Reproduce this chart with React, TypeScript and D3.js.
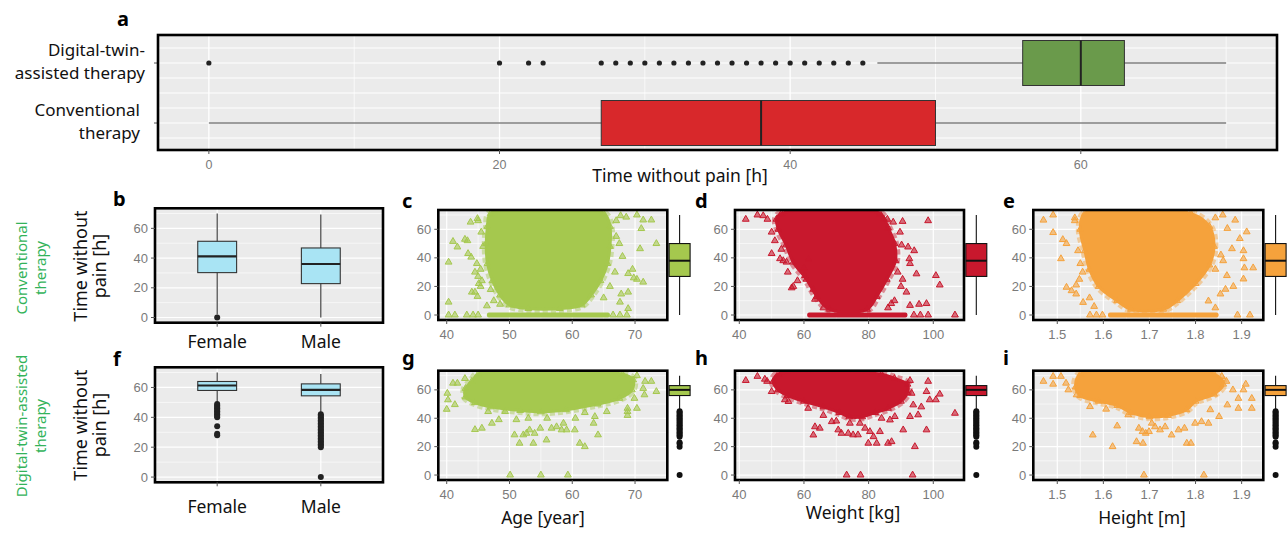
import React from 'react';
import * as d3 from 'd3';

const W = 1287;
const H = 533;
const TEXT_FONT = '"Noto Sans", "Open Sans", sans-serif';
const TICK_FONT = '"Liberation Sans", Arial, sans-serif';
const PANEL_BG = '#ebebeb';
const TICK_GREY = '#7a7a7a';
const LABEL_GREEN = '#33b35a';
const TIME_DOMAIN = [-3.5, 73.5];

// ---------- panel a: time without pain per therapy ----------
const therapyGroups = ['Digital-twin-assisted therapy', 'Conventional therapy'];
const therapyLabelLines = [['Digital-twin-', 'assisted therapy'], ['Conventional', 'therapy']];
const therapyFills = ['#6a9a4b', '#d8282b'];
// [lower whisker, Q1, median, Q3, upper whisker]
const digitalStats = [46, 56, 60, 63, 70];
const conventionalStats = [0, 27, 38, 50, 70];
const digitalOutliers = [0, 20, 22, 23, 27, 28, 29, 30, 31, 32, 33, 34, 35, 36, 37, 38, 39, 40, 41, 42, 43, 44, 45];
const conventionalOutliers: number[] = [];
const timeTicks = [0, 20, 40, 60];
const timeMinorTicks = [10, 30, 50, 70];

// ---------- panels b, f: by sex ----------
const sexes = ['Female', 'Male'];
const sexFill = '#a9e4f4';
const convSexStats = [[2, 30.2, 41.2, 51.3, 70], [0, 22.8, 36, 46.8, 69.4]];
const convSexOutliers = [[0], []];
const dtSexStats = [[49.5, 58, 61.3, 64, 70], [42.8, 54.4, 58.4, 62.4, 69]];
const dtSexOutliers = [
  [49, 48, 47, 46, 45, 44, 43, 42, 41, 40, 34, 29, 28],
  [42, 41, 40, 39, 38, 37, 36, 35, 34, 33, 32, 31, 30, 29, 28, 27, 26, 25, 24, 23, 22, 21, 20, 0],
];

// ---------- scatter panels ----------
const ageColor = '#a5c84e';
const weightColor = '#c8182d';
const heightColor = '#f5a23c';
const ageTicks = [40, 50, 60, 70];
const ageMinor = [45, 55, 65, 75];
const weightTicks = [40, 60, 80, 100];
const weightMinor = [50, 70, 90];
const heightTicks = [1.5, 1.6, 1.7, 1.8, 1.9];
const heightMinor = [1.45, 1.55, 1.65, 1.75, 1.85];

// conventional therapy: dense cloud outline, row of zeros, scattered points
const ageConvCore = [[47, 71], [65, 71], [66, 62], [66, 48], [65.6, 36], [64.5, 24], [63, 14], [61.5, 7], [58, 4.5], [53, 4.5], [50, 7], [48.5, 14], [47.3, 24], [46.5, 36], [46.3, 50], [46.5, 62]];
const ageConvZeros = [46.4, 66];
const ageConvPoints = [[40.3, 37], [41, 51.5], [41.7, 47.6], [42.9, 53], [43.3, 52], [43.8, 65], [45, 66], [44.9, 67.5], [43.4, 43], [43.9, 40.5], [44, 16], [44.5, 16], [40.3, 9], [40.3, 0], [41.3, 0], [43.2, 0], [44.2, 0], [45, 0], [45.4, 20], [44.9, 13], [46.4, 6.4], [48.5, 7.5], [47, 17.8], [47.5, 10], [66.5, 0], [67.6, 0], [68.7, 0], [70.3, 70], [71.3, 66.5], [72.6, 66.5], [73.4, 50], [70.8, 46.4], [71, 60.5], [70.3, 25], [71.3, 23], [69.8, 26], [68.9, 16], [67.8, 14.7], [67.6, 9], [68.9, 4.5], [68, 41], [68.9, 29], [69.6, 32], [67, 66], [68.6, 68.5], [67.7, 69.5], [45.5, 58], [45.8, 48], [44.5, 30], [45, 27], [67, 55], [67.5, 50], [66.8, 30], [66, 20], [65, 12], [44.8, 36], [45.4, 32], [45.6, 24], [45.1, 22]];

const weightConvCore = [[53, 71], [83.5, 71], [86, 61], [88, 50], [88.3, 38], [85.6, 25], [82.5, 13], [79.5, 4], [68, 4], [64, 13], [60.8, 25], [56.7, 37], [54.5, 49], [52.1, 60], [51.5, 67]];
const weightConvZeros = [61, 92];
const weightConvPoints = [[42, 67], [45.6, 70], [47.4, 69.5], [48.7, 67], [50, 58], [50, 43], [52.6, 39.4], [53.6, 38], [54.6, 37], [56.2, 19], [56.7, 20], [60.3, 27.6], [60, 33], [61.4, 39], [62.9, 18], [63.4, 11], [66, 5], [84.7, 67], [85.8, 67], [87.6, 65], [90.5, 65.5], [89.7, 58], [90.2, 49], [92.2, 47.6], [94.1, 45], [92.6, 39.4], [92.8, 36], [94.8, 28.8], [90.5, 25], [91.7, 16], [92.8, 6.7], [95.6, 7.5], [97.9, 8], [100.8, 27.6], [102, 21], [98.4, 66], [94, 0], [96, 0], [98.4, 0], [106.7, 0], [51, 52], [53, 46], [55, 30], [58, 24], [89, 30], [90, 20], [88, 10], [86, 5], [87, 8]];

const heightConvCore = [[1.56, 71], [1.79, 71], [1.83, 62], [1.84, 48], [1.83, 35], [1.8, 22], [1.76, 10], [1.73, 4], [1.66, 4], [1.63, 10], [1.59, 20], [1.57, 32], [1.56, 45], [1.55, 60]];
const heightConvZeros = [1.61, 1.85];
const heightConvPoints = [[1.47, 66.4], [1.491, 70], [1.491, 57.7], [1.512, 52.8], [1.52, 50], [1.508, 39.4], [1.52, 19.4], [1.531, 17], [1.541, 14.7], [1.538, 66], [1.538, 68], [1.541, 21], [1.548, 25], [1.555, 30], [1.556, 8.8], [1.571, 0], [1.585, 0], [1.598, 0], [1.891, 0], [1.918, 0], [1.859, 70], [1.843, 68], [1.869, 60.6], [1.886, 66.4], [1.896, 53.5], [1.911, 58.2], [1.904, 45], [1.879, 46.4], [1.904, 39.4], [1.906, 33], [1.925, 33], [1.904, 25.2], [1.882, 20], [1.868, 27.6], [1.865, 18], [1.854, 14.7], [1.843, 5], [1.828, 9.8], [1.843, 32], [1.86, 38], [1.855, 42], [1.57, 12], [1.58, 6], [1.545, 45], [1.55, 36]];

// digital-twin-assisted therapy
const ageDtCore = [[45, 71], [68, 71], [69.7, 67], [69.5, 60], [67.5, 54], [64, 50], [59, 46], [55, 44.5], [51.7, 45.5], [47, 48], [44.5, 51], [43, 55], [43, 61], [44, 66]];
const ageDtPoints = [[40.1, 57.6], [40.2, 53], [40, 46.3], [41.3, 49.6], [41, 64.7], [41.7, 64.7], [42.9, 68], [44.5, 32], [45.6, 33], [47.2, 36.5], [48.3, 39], [46.6, 44.7], [49.3, 44.7], [51.1, 39], [50.8, 28.3], [52.2, 28.3], [52.7, 29.4], [53.2, 31.8], [54, 29.4], [51.6, 22.4], [53.8, 22.4], [54.9, 33], [55.9, 24.7], [56.7, 33], [57.5, 34], [58.3, 31.8], [59.1, 31.8], [58.6, 36.5], [60.4, 31.8], [61.2, 22.4], [62, 20], [64.1, 28.3], [63.4, 36.5], [63.6, 41.2], [65.5, 44.7], [68.8, 44.7], [68.8, 42], [68.8, 47], [70.3, 47], [70.3, 70], [71.6, 66], [72.6, 66], [73.4, 58.8], [71.3, 61], [71.5, 56.5], [69.9, 54], [50.1, 0], [55, 0], [59.3, 0], [60.5, 40], [62, 44], [56, 40], [53, 40]];

const weightDtCore = [[52, 71], [84, 71], [88, 68], [92, 64], [92, 58], [90, 52], [86, 47], [82, 44], [78, 41], [74, 41], [71, 44], [66, 48], [60, 52], [55, 56], [52, 60], [50.5, 66]];
const weightDtPoints = [[42, 66.6], [45.6, 69.5], [47.9, 67.5], [48.6, 66], [50, 58.8], [54.1, 53], [55.2, 51.8], [61.3, 47], [62.9, 28.2], [63.4, 34], [64.9, 33], [68.6, 37.6], [70.6, 31.8], [71.6, 29.4], [73.7, 29.4], [75.2, 28.3], [76.7, 28.3], [74.2, 36.5], [77.3, 36.5], [78.9, 33], [80.4, 30.6], [81.5, 27], [83.5, 30.6], [79.9, 22.4], [82.5, 22.4], [86, 22.4], [87.1, 23.5], [86.6, 38.8], [88.1, 41.2], [90.7, 31.8], [92.8, 41.2], [95.3, 42.4], [94.3, 20], [97.9, 31.8], [96.3, 48], [97.9, 58.8], [98.4, 66], [98.9, 53], [100.8, 53], [102, 57], [106.7, 43.5], [93.3, 57.6], [93.8, 49.4], [92.8, 66.6], [73.2, 0], [77.5, 0], [93.6, 0], [66, 42], [70, 38], [84, 40]];

const heightDtCore = [[1.55, 71], [1.84, 71], [1.86, 64], [1.84, 57], [1.8, 52], [1.78, 46], [1.74, 42], [1.7, 41], [1.66, 44], [1.63, 49], [1.59, 52], [1.55, 56], [1.54, 62]];
const heightDtPoints = [[1.47, 66], [1.491, 69.5], [1.508, 69.5], [1.491, 64], [1.519, 64.7], [1.524, 60], [1.542, 56.5], [1.571, 48.2], [1.577, 28.2], [1.606, 46.4], [1.62, 20], [1.63, 34.6], [1.654, 42.4], [1.672, 23.5], [1.685, 30.6], [1.692, 29.4], [1.699, 30.6], [1.686, 22.4], [1.677, 33], [1.705, 36.5], [1.712, 34], [1.723, 31.8], [1.734, 34], [1.748, 28.2], [1.763, 31.8], [1.781, 22.4], [1.79, 22.4], [1.776, 33], [1.799, 36.5], [1.813, 37.6], [1.828, 36.5], [1.832, 46], [1.851, 41.2], [1.869, 49.4], [1.893, 54], [1.893, 47], [1.904, 60], [1.909, 64], [1.922, 54], [1.922, 47], [1.881, 60], [1.867, 66], [1.857, 69.5], [1.688, 0], [1.818, 0]];

// ---------- shared pieces ----------
function VBox({ cx, w, y, s, fill, outliers, r }: any) {
  return (
    <g>
      <line x1={cx} x2={cx} y1={y(s[4])} y2={y(s[0])} stroke="#333" strokeWidth={1.1} />
      <rect x={cx - w / 2} y={y(s[3])} width={w} height={y(s[1]) - y(s[3])} fill={fill} stroke="#333" strokeWidth={1.1} />
      <line x1={cx - w / 2} x2={cx + w / 2} y1={y(s[2])} y2={y(s[2])} stroke="#222" strokeWidth={2.2} />
      {outliers.map((o: number, i: number) => (
        <circle key={i} cx={cx} cy={y(o)} r={r} fill="#222" />
      ))}
    </g>
  );
}

function GridY({ x0, x1, y, major, minor }: any) {
  return (
    <g>
      {minor.map((t: number) => <line key={'n' + t} x1={x0} x2={x1} y1={y(t)} y2={y(t)} stroke="#fff" strokeWidth={0.6} />)}
      {major.map((t: number) => <line key={'j' + t} x1={x0} x2={x1} y1={y(t)} y2={y(t)} stroke="#fff" strokeWidth={1.2} />)}
    </g>
  );
}

function YAxis({ x0, y, ticks }: any) {
  return (
    <g>
      {ticks.map((t: number) => (
        <g key={t}>
          <line x1={x0 - 4} x2={x0} y1={y(t)} y2={y(t)} stroke="#555" strokeWidth={1} />
          <text x={x0 - 7} y={y(t) + 4.5} textAnchor="end" fontFamily={TICK_FONT} fontSize={13} fill={TICK_GREY}>{t}</text>
        </g>
      ))}
    </g>
  );
}

function Letter({ x, y, t }: any) {
  return <text x={x} y={y} fontFamily={TEXT_FONT} fontWeight="bold" fontSize={20} fill="#000">{t}</text>;
}

function PanelA() {
  const x0 = 158, x1 = 1277, y0 = 35, y1 = 150;
  const x = d3.scaleLinear().domain(TIME_DOMAIN).range([x0, x1]);
  const y = d3.scaleLinear().domain([1, 2]).range([123, 63]);
  const rows = [
    { pos: 2, stats: digitalStats, out: digitalOutliers, fill: therapyFills[0], lines: therapyLabelLines[0], lx: 145 },
    { pos: 1, stats: conventionalStats, out: conventionalOutliers, fill: therapyFills[1], lines: therapyLabelLines[1], lx: 140 },
  ];
  const hLines = [0.75, 1, 1.25, 1.5, 1.75, 2, 2.25];
  const half = 0.375;
  return (
    <g>
      <rect x={x0} y={y0} width={x1 - x0} height={y1 - y0} fill={PANEL_BG} />
      {hLines.map((p) => <line key={p} x1={x0} x2={x1} y1={y(p)} y2={y(p)} stroke="#fff" strokeWidth={1} />)}
      {timeMinorTicks.map((t) => <line key={'n' + t} x1={x(t)} x2={x(t)} y1={y0} y2={y1} stroke="#fff" strokeWidth={0.7} />)}
      {timeTicks.map((t) => <line key={'j' + t} x1={x(t)} x2={x(t)} y1={y0} y2={y1} stroke="#fff" strokeWidth={1.3} />)}
      {rows.map((r) => (
        <g key={r.pos}>
          <line x1={x(r.stats[0])} x2={x(r.stats[4])} y1={y(r.pos)} y2={y(r.pos)} stroke="#444" strokeWidth={1.2} />
          <rect x={x(r.stats[1])} y={y(r.pos + half)} width={x(r.stats[3]) - x(r.stats[1])} height={y(r.pos - half) - y(r.pos + half)} fill={r.fill} stroke="#333" strokeWidth={1} />
          <line x1={x(r.stats[2])} x2={x(r.stats[2])} y1={y(r.pos + half)} y2={y(r.pos - half)} stroke="#222" strokeWidth={2} />
          {r.out.map((o: number, i: number) => <circle key={i} cx={x(o)} cy={y(r.pos)} r={2.6} fill="#222" />)}
          <line x1={x0 - 4} x2={x0} y1={y(r.pos)} y2={y(r.pos)} stroke="#555" />
          {r.lines.map((l: string, i: number) => (
            <text key={i} x={r.lx} y={y(r.pos) - 7 + i * 23} textAnchor="end" fontFamily={TEXT_FONT} fontSize={17} fill="#111">{l}</text>
          ))}
        </g>
      ))}
      <rect x={x0} y={y0} width={x1 - x0} height={y1 - y0} fill="none" stroke="#000" strokeWidth={2.6} />
      {timeTicks.map((t) => (
        <g key={t}>
          <line x1={x(t)} x2={x(t)} y1={y1} y2={y1 + 4} stroke="#555" />
          <text x={x(t)} y={169} textAnchor="middle" fontFamily={TICK_FONT} fontSize={12.5} fill={TICK_GREY}>{t}</text>
        </g>
      ))}
      <text x={680} y={182} textAnchor="middle" fontFamily={TEXT_FONT} fontSize={17.5} fill="#111">Time without pain [h]</text>
      <Letter x={117} y={26} t="a" />
    </g>
  );
}

function SexPanel({ y0, y1, stats, outliers, letter, letterY, catY }: any) {
  const x0 = 155, x1 = 383;
  const x = d3.scaleLinear().domain([0.4, 2.6]).range([x0, x1]);
  const y = d3.scaleLinear().domain(TIME_DOMAIN).range([y1, y0]);
  const bw = x(1.375) - x(1);
  return (
    <g>
      <rect x={x0} y={y0} width={x1 - x0} height={y1 - y0} fill={PANEL_BG} />
      <GridY x0={x0} x1={x1} y={y} major={timeTicks} minor={timeMinorTicks} />
      {sexes.map((s, i) => <line key={s} x1={x(i + 1)} x2={x(i + 1)} y1={y0} y2={y1} stroke="#fff" strokeWidth={1.2} />)}
      {sexes.map((s, i) => (
        <VBox key={s} cx={x(i + 1)} w={bw} y={y} s={stats[i]} fill={sexFill} outliers={outliers[i]} r={3} />
      ))}
      <rect x={x0} y={y0} width={x1 - x0} height={y1 - y0} fill="none" stroke="#000" strokeWidth={2.6} />
      <YAxis x0={x0} y={y} ticks={timeTicks} />
      {sexes.map((s, i) => (
        <g key={s}>
          <line x1={x(i + 1)} x2={x(i + 1)} y1={y1} y2={y1 + 4} stroke="#555" />
          <text x={x(i + 1)} y={catY} textAnchor="middle" fontFamily={TEXT_FONT} fontSize={17.5} fill="#111">{s}</text>
        </g>
      ))}
      <Letter x={113} y={letterY} t={letter} />
    </g>
  );
}

const tri = d3.symbol().type(d3.symbolTriangle).size(20)();

function Scatter({ x0, x1, y0, y1, xDomain, xTicks, xMinor, core, zeros, points, color, margStats, margOutliers, tickY, letter, letterX, letterY }: any) {
  const x = d3.scaleLinear().domain(xDomain).range([x0, x1]);
  const y = d3.scaleLinear().domain(TIME_DOMAIN).range([y1, y0]);
  const blob = d3.line<number[]>().x((d) => x(d[0])).y((d) => y(d[1])).curve(d3.curveCatmullRomClosed.alpha(0.5))(core);
  const clipId = 'clip-' + letter;
  const mcx = x1 + 12.3;
  const mw = 21;
  const marks = points.concat(core);
  return (
    <g>
      <defs>
        <clipPath id={clipId}><rect x={x0} y={y0} width={x1 - x0} height={y1 - y0} /></clipPath>
      </defs>
      <rect x={x0} y={y0} width={x1 - x0} height={y1 - y0} fill={PANEL_BG} />
      <GridY x0={x0} x1={x1} y={y} major={timeTicks} minor={timeMinorTicks} />
      {xMinor.map((t: number) => <line key={'n' + t} x1={x(t)} x2={x(t)} y1={y0} y2={y1} stroke="#fff" strokeWidth={0.6} />)}
      {xTicks.map((t: number) => <line key={'j' + t} x1={x(t)} x2={x(t)} y1={y0} y2={y1} stroke="#fff" strokeWidth={1.2} />)}
      <g clipPath={`url(#${clipId})`}>
        <path d={blob || ''} fill="none" stroke={color} strokeOpacity={0.45} strokeWidth={9} strokeLinejoin="round" strokeDasharray="5 3" />
        <path d={blob || ''} fill={color} stroke={color} strokeWidth={3} strokeLinejoin="round" />
        {zeros && (
          <rect x={x(zeros[0])} y={y(1.8)} width={x(zeros[1]) - x(zeros[0])} height={y(-1.8) - y(1.8)} rx={2} fill={color} />
        )}
        {marks.map((p: number[], i: number) => (
          <path key={i} d={tri || ''} transform={`translate(${x(p[0])},${y(p[1])})`} fill={color} fillOpacity={0.6} stroke={color} strokeWidth={1} />
        ))}
      </g>
      <rect x={x0} y={y0} width={x1 - x0} height={y1 - y0} fill="none" stroke="#000" strokeWidth={2.6} />
      <YAxis x0={x0} y={y} ticks={timeTicks} />
      {xTicks.map((t: number) => (
        <g key={t}>
          <line x1={x(t)} x2={x(t)} y1={y1} y2={y1 + 4} stroke="#555" />
          <text x={x(t)} y={tickY} textAnchor="middle" fontFamily={TICK_FONT} fontSize={13} fill={TICK_GREY}>{String(t)}</text>
        </g>
      ))}
      <g>
        <line x1={mcx} x2={mcx} y1={y(margStats[4])} y2={y(margStats[0])} stroke="#111" strokeWidth={1.1} />
        <rect x={mcx - mw / 2} y={y(margStats[3])} width={mw} height={y(margStats[1]) - y(margStats[3])} fill={color} stroke="#111" strokeWidth={1.1} />
        <line x1={mcx - mw / 2} x2={mcx + mw / 2} y1={y(margStats[2])} y2={y(margStats[2])} stroke="#111" strokeWidth={2} />
        {margOutliers.map((o: number, i: number) => <circle key={i} cx={mcx} cy={y(o)} r={3} fill="#111" />)}
      </g>
      <Letter x={letterX} y={letterY} t={letter} />
    </g>
  );
}

function RotText({ x, y, size, color, children }: any) {
  return (
    <text transform={`translate(${x},${y}) rotate(-90)`} textAnchor="middle" fontFamily={TEXT_FONT} fontSize={size} fill={color}>{children}</text>
  );
}

export default function App() {
  const topRow = { y0: 210, y1: 320, tickY: 339, letterY: 208 };
  const botRow = { y0: 370.7, y1: 480, tickY: 499, letterY: 365 };
  const colC = { x0: 438.3, x1: 667.3, xDomain: [38.66, 75.14], xTicks: ageTicks, xMinor: ageMinor, color: ageColor };
  const colD = { x0: 735, x1: 964, xDomain: [38.67, 109.5], xTicks: weightTicks, xMinor: weightMinor, color: weightColor };
  const colE = { x0: 1033.3, x1: 1263.3, xDomain: [1.448, 1.947], xTicks: heightTicks, xMinor: heightMinor, color: heightColor };
  return (
    <svg width={W} height={H} viewBox={`0 0 ${W} ${H}`} style={{ position: 'absolute', left: 0, top: 0, background: '#fff' }}>
      <rect width={W} height={H} fill="#fff" />
      <PanelA />

      <SexPanel y0={208.3} y1={322.7} stats={convSexStats} outliers={convSexOutliers} letter="b" letterY={206} catY={348} />
      <SexPanel y0={367.3} y1={482.3} stats={dtSexStats} outliers={dtSexOutliers} letter="f" letterY={366} catY={513} />

      <RotText x={87} y={266} size={18} color="#111">Time without</RotText>
      <RotText x={106} y={266} size={18} color="#111">pain [h]</RotText>
      <RotText x={87} y={425} size={18} color="#111">Time without</RotText>
      <RotText x={106} y={425} size={18} color="#111">pain [h]</RotText>
      <RotText x={27} y={268} size={15} color={LABEL_GREEN}>Conventional</RotText>
      <RotText x={46} y={268} size={15} color={LABEL_GREEN}>therapy</RotText>
      <RotText x={27} y={426} size={15} color={LABEL_GREEN}>Digital-twin-assisted</RotText>
      <RotText x={46} y={426} size={15} color={LABEL_GREEN}>therapy</RotText>

      <Scatter {...topRow} {...colC} core={ageConvCore} zeros={ageConvZeros} points={ageConvPoints} margStats={conventionalStats} margOutliers={conventionalOutliers} letter="c" letterX={402} />
      <Scatter {...topRow} {...colD} core={weightConvCore} zeros={weightConvZeros} points={weightConvPoints} margStats={conventionalStats} margOutliers={conventionalOutliers} letter="d" letterX={695} />
      <Scatter {...topRow} {...colE} core={heightConvCore} zeros={heightConvZeros} points={heightConvPoints} margStats={conventionalStats} margOutliers={conventionalOutliers} letter="e" letterX={1003} />
      <Scatter {...botRow} {...colC} core={ageDtCore} points={ageDtPoints} margStats={digitalStats} margOutliers={digitalOutliers} letter="g" letterX={402} />
      <Scatter {...botRow} {...colD} core={weightDtCore} points={weightDtPoints} margStats={digitalStats} margOutliers={digitalOutliers} letter="h" letterX={695} />
      <Scatter {...botRow} {...colE} core={heightDtCore} points={heightDtPoints} margStats={digitalStats} margOutliers={digitalOutliers} letter="i" letterX={1003} />

      <text x={543} y={524} textAnchor="middle" fontFamily={TEXT_FONT} fontSize={17.5} fill="#111">Age [year]</text>
      <text x={853} y={519} textAnchor="middle" fontFamily={TEXT_FONT} fontSize={17.5} fill="#111">Weight [kg]</text>
      <text x={1142} y={524} textAnchor="middle" fontFamily={TEXT_FONT} fontSize={17.5} fill="#111">Height [m]</text>
    </svg>
  );
}
